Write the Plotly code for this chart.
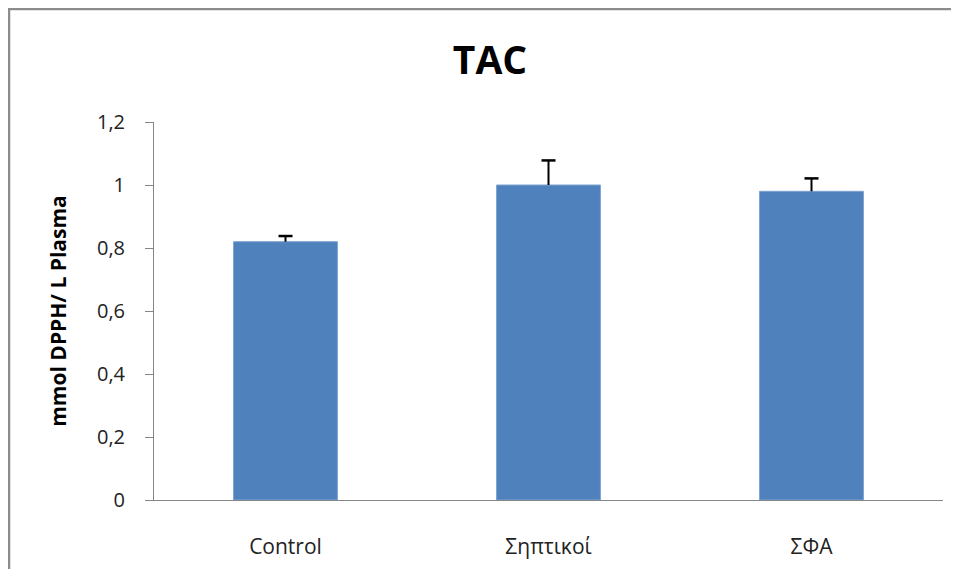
import plotly.graph_objects as go

categories = ["Control", "Σηπτικοί", "ΣΦΑ"]
values = [0.82, 1.00, 0.98]
errors = [0.018, 0.078, 0.041]
y_ticks = [0, 0.2, 0.4, 0.6, 0.8, 1.0, 1.2]
y_tick_labels = ["0", "0,2", "0,4", "0,6", "0,8", "1", "1,2"]

err_tops = [v + e for v, e in zip(values, errors)]

fig = go.Figure()
fig.add_trace(go.Bar(
    x=categories, y=values,
    marker=dict(color="#4F81BD", line=dict(color="#7FA3D0", width=1)),
    width=0.395,
    error_y=dict(type="data", array=errors, arrayminus=[0, 0, 0], symmetric=False,
                 color="black", thickness=2, width=0),
))
# caps only at the top of the error bars
fig.add_trace(go.Scatter(
    x=categories, y=err_tops, mode="markers",
    marker=dict(symbol="line-ew", size=10, line=dict(color="black", width=2.5)),
    hoverinfo="skip",
))

bx0, bx1 = -145 / 789, 1 + 80 / 789
by0, by1 = -120 / 378, 1 + 113 / 378

fig.update_layout(
    width=943, height=561,
    margin=dict(l=146, r=8, t=114, b=69),
    paper_bgcolor="white", plot_bgcolor="white",
    showlegend=False,
    font=dict(family="Open Sans, DejaVu Sans, sans-serif", color="#222"),
    title=dict(text="<b>TAC</b>", x=(490 - 8) / 943, xanchor="center", xref="container",
               y=1 - 52 / 561, yanchor="middle", yref="container",
               font=dict(size=39, color="black")),
    xaxis=dict(showline=True, linecolor="#868686", linewidth=1, ticks="",
               tickfont=dict(size=21, color="#222"), ticklabelstandoff=28,
               showgrid=False, zeroline=False),
    yaxis=dict(range=[0, 1.2], tickvals=y_ticks, ticktext=y_tick_labels,
               showline=True, linecolor="#868686", linewidth=1,
               ticks="outside", ticklen=8, tickcolor="#868686",
               tickfont=dict(size=20, color="#222"), ticklabelstandoff=16,
               showgrid=False, zeroline=False,
               title=dict(text="<b>mmol DPPH/ L Plasma</b>", font=dict(size=21, color="black"),
                          standoff=24)),
    shapes=[dict(type="path", xref="paper", yref="paper",
                 path=f"M {bx0},{by0} L {bx0},{by1} L {bx1},{by1}",
                 line=dict(color="#8C8C8C", width=2.5), layer="below")],
)

fig.write_html("out.html")
